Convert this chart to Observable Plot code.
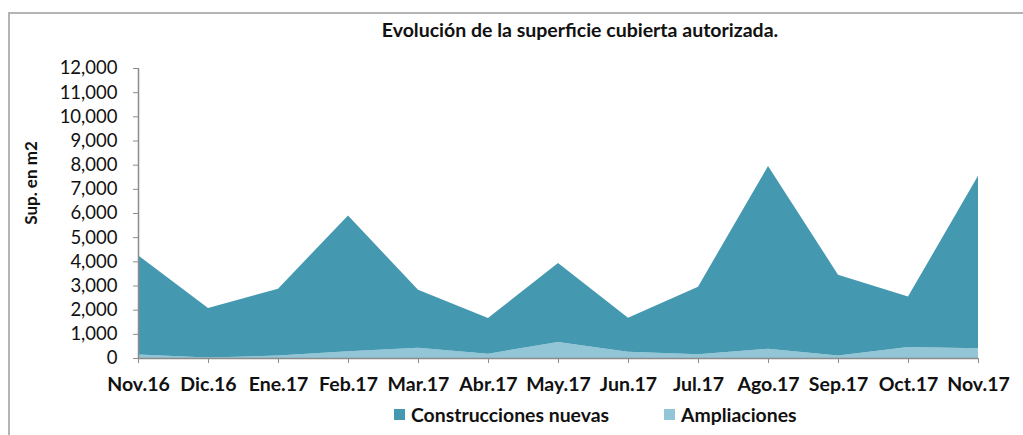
<!DOCTYPE html>
<html>
<head>
<meta charset="utf-8">
<script src="https://cdn.jsdelivr.net/npm/d3@7"></script>
<script src="https://cdn.jsdelivr.net/npm/@observablehq/plot@0.6"></script>
<style>
  html, body { margin: 0; padding: 0; background: #fff; }
  #wrap { position: relative; width: 1023px; height: 435px; overflow: hidden; font-family: Lato, "Open Sans", sans-serif; }
  #frame { position: absolute; left: 8px; top: 12px; width: 1100px; height: 500px; border-left: 2px solid #b4b4b4; border-top: 2px solid #b4b4b4; }
  #title { position: absolute; left: 0; width: 1160px; top: 18px; text-align: center; font-weight: bold; font-size: 19.5px; color: #111; }
  #ylabel { position: absolute; left: 30px; top: 183px; transform: translate(-50%, -50%) rotate(-90deg); font-weight: bold; font-size: 17px; color: #111; white-space: nowrap; }
  #legend { position: absolute; top: 403px; left: 394px; font-weight: bold; font-size: 19.4px; color: #111; display: flex; align-items: center; white-space: nowrap; }
  #legend .sw { display: inline-block; width: 11px; height: 11px; margin-right: 6px; }
  #legend .item { display: flex; align-items: center; }
  #chart { position: absolute; left: 0; top: 0; }
</style>
</head>
<body>
<div id="wrap">
  <div id="frame"></div>
  <div id="chart"></div>
  <div id="title">Evolución de la superficie cubierta autorizada.</div>
  <div id="ylabel">Sup. en m2</div>
  <div id="legend"></div>
</div>
<script>
const months = ["Nov.16","Dic.16","Ene.17","Feb.17","Mar.17","Abr.17","May.17","Jun.17","Jul.17","Ago.17","Sep.17","Oct.17","Nov.17"];
const construccionesNuevas = [4100, 2050, 2770, 5620, 2400, 1480, 3270, 1410, 2790, 7555, 3350, 2085, 7140];
const ampliaciones = [150, 20, 100, 280, 420, 180, 660, 260, 160, 385, 100, 455, 400];
const seriesNames = ["Ampliaciones", "Construcciones nuevas"];
const seriesColors = ["#92c5d6", "#4498b0"];
const yTicks = [0,1000,2000,3000,4000,5000,6000,7000,8000,9000,10000,11000,12000];

const data = [];
months.forEach((m, i) => data.push({month: m, series: seriesNames[0], value: ampliaciones[i]}));
months.forEach((m, i) => data.push({month: m, series: seriesNames[1], value: construccionesNuevas[i]}));

const chart = Plot.plot({
  width: 1023,
  height: 435,
  marginLeft: 138,
  marginRight: 45,
  marginTop: 68,
  marginBottom: 77,
  style: {fontFamily: "Lato, 'Open Sans', sans-serif", color: "#111", background: "transparent"},
  x: {type: "point", domain: months, padding: 0, label: null},
  y: {domain: [0, 12000], label: null},
  color: {domain: seriesNames, range: seriesColors},
  marks: [
    Plot.areaY(data, {x: "month", y: "value", z: "series", fill: "series", order: seriesNames, curve: "linear"}),
    Plot.ruleY([0], {stroke: "#8c8c8c", strokeWidth: 1.5}),
    Plot.ruleX([months[0]], {stroke: "#8c8c8c", strokeWidth: 1.5}),
    Plot.axisY({ticks: yTicks, tickFormat: d3.format(","), tickSize: 5, tickPadding: 16, stroke: "#8c8c8c", fontSize: 18.5, label: null}),
    Plot.axisX({tickSize: 5, tickPadding: 14, stroke: "#8c8c8c", fontSize: 19.5, fontWeight: "bold", label: null})
  ]
});
document.getElementById("chart").appendChild(chart);

const legend = document.getElementById("legend");
[[seriesNames[1], seriesColors[1]], [seriesNames[0], seriesColors[0]]].forEach(([name, col], k) => {
  const it = document.createElement("span");
  it.className = "item";
  if (k > 0) it.style.marginLeft = "55px";
  const sw = document.createElement("span");
  sw.className = "sw";
  sw.style.background = col;
  it.appendChild(sw);
  it.appendChild(document.createTextNode(name));
  legend.appendChild(it);
});
</script>
</body>
</html>
